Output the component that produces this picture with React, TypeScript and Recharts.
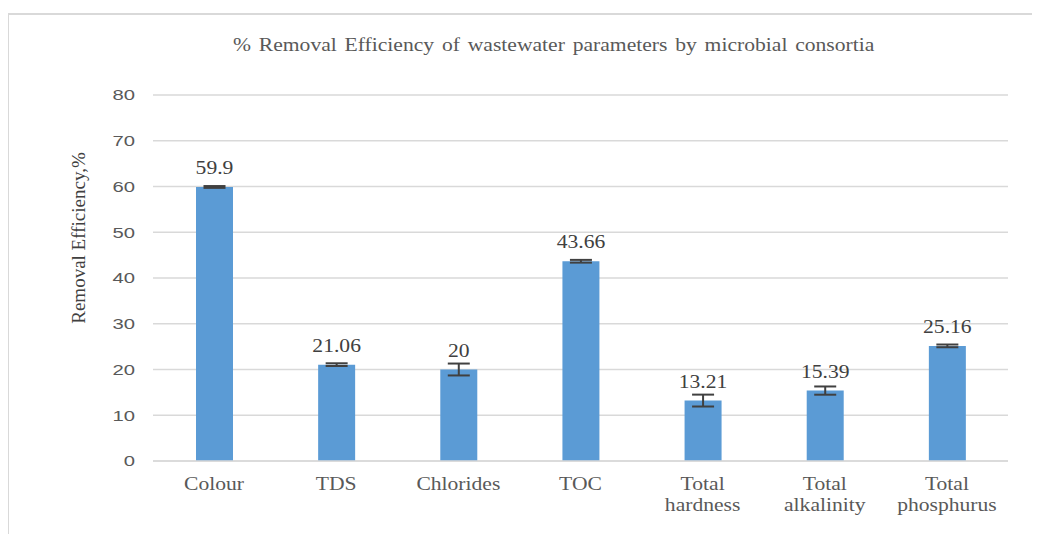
import { BarChart, Bar, XAxis, YAxis, CartesianGrid, ErrorBar, LabelList } from 'recharts';

const categories = ['Colour', 'TDS', 'Chlorides', 'TOC', 'Total hardness', 'Total alkalinity', 'Total phosphurus'];
const removal = [59.9, 21.06, 20, 43.66, 13.21, 15.39, 25.16];
const errors = [0.2, 0.3, 1.3, 0.3, 1.3, 0.9, 0.3];
const yTicks = [0, 10, 20, 30, 40, 50, 60, 70, 80];

const data = categories.map((name, i) => ({ name, value: removal[i], err: errors[i] }));

const serif = '"Liberation Serif", "Times New Roman", serif';
const sans = '"Liberation Sans", Arial, sans-serif';
// the source image is stretched sideways, so the text is too
const stretch = 1.2;

const CategoryTick = ({ x, y, payload }: any) => {
  const words = String(payload.value).split(' ');
  return (
    <g transform={`translate(${x},${y}) scale(${stretch},1)`}>
      <text x={0} y={0} textAnchor="middle" fill="#595959" fontFamily={serif} fontSize={18}>
        {words.map((w, i) => (
          <tspan key={i} x={0} dy={i === 0 ? 21 : 21}>
            {w}
          </tspan>
        ))}
      </text>
    </g>
  );
};

const ValueTick = ({ x, y, payload }: any) => (
  <g transform={`translate(${x},${y}) scale(1.35,1)`}>
    <text x={0} y={0} dy="0.36em" textAnchor="end" fill="#595959" fontFamily={sans} fontSize={15}>
      {payload.value}
    </text>
  </g>
);

const BarValue = ({ x, y, width, value }: any) => (
  <g transform={`translate(${Number(x) + Number(width) / 2},${Number(y) - 13}) scale(${stretch},1)`}>
    <text x={0} y={0} textAnchor="middle" fill="#404040" fontFamily={serif} fontSize={18}>
      {value}
    </text>
  </g>
);

const AxisTitle = ({ viewBox }: any) => {
  const cy = viewBox.y + viewBox.height / 2 - 40;
  return (
    <text
      transform={`translate(85,${cy}) rotate(-90)`}
      textAnchor="middle"
      fill="#404040"
      fontFamily={serif}
      fontSize={19}
    >
      Removal Efficiency,%
    </text>
  );
};

export default function App() {
  return (
    <div style={{ position: 'relative', width: 1040, height: 542, margin: -8, overflow: 'hidden', background: '#fff' }}>
      <div
        style={{
          position: 'absolute',
          left: 7,
          top: 13,
          width: 1100,
          height: 600,
          border: '2px solid #d9d9d9',
        }}
      />
      <div
        style={{
          position: 'absolute',
          left: 233,
          top: 35,
          whiteSpace: 'nowrap',
          fontFamily: serif,
          fontSize: 18,
          color: '#595959',
          wordSpacing: 2,
          transform: `scaleX(${stretch})`,
          transformOrigin: 'left top',
        }}
      >
        % Removal Efficiency of wastewater parameters by microbial consortia
      </div>
      <div style={{ position: 'absolute', left: 0, top: 0 }}>
        <BarChart width={1040} height={542} data={data} margin={{ top: 95, right: 32, bottom: 51, left: 0 }} barCategoryGap={0}>
          <CartesianGrid vertical={false} stroke="#d9d9d9" strokeWidth={1.5} />
          <XAxis
            dataKey="name"
            axisLine={{ stroke: '#d9d9d9', strokeWidth: 1.5 }}
            tickLine={false}
            interval={0}
            tick={<CategoryTick />}
          />
          <YAxis
            width={153}
            domain={[0, 80]}
            ticks={yTicks}
            axisLine={false}
            tickLine={false}
            tickMargin={12}
            tick={<ValueTick />}
            label={<AxisTitle />}
          />
          <Bar dataKey="value" fill="#5b9bd5" barSize={37} isAnimationActive={false}>
            <ErrorBar dataKey="err" width={11} stroke="#404040" strokeWidth={2} direction="y" />
            <LabelList dataKey="value" content={<BarValue />} />
          </Bar>
        </BarChart>
      </div>
    </div>
  );
}
